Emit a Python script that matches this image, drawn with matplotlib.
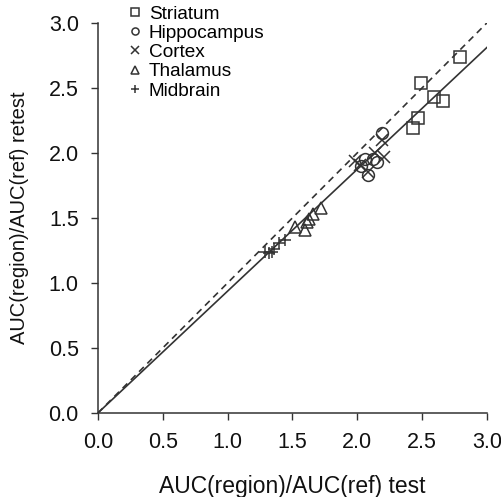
import numpy as np
import matplotlib
matplotlib.use("Agg")
import matplotlib.pyplot as plt

plt.rcParams['font.family'] = ['Liberation Sans', 'DejaVu Sans']

# test / retest ratios
striatum_test = [2.79, 2.49, 2.59, 2.66, 2.47, 2.43]
striatum_retest = [2.74, 2.54, 2.43, 2.40, 2.27, 2.19]
hippo_test = [2.19, 2.06, 2.15, 2.08, 2.03, 2.12]
hippo_retest = [2.15, 1.95, 1.93, 1.83, 1.90, 1.95]
cortex_test = [1.98, 2.02, 2.08, 2.14, 2.21, 2.19]
cortex_retest = [1.94, 1.91, 1.85, 2.00, 1.97, 2.10]
thalamus_test = [1.52, 1.60, 1.61, 1.63, 1.66, 1.72]
thalamus_retest = [1.43, 1.41, 1.47, 1.49, 1.53, 1.58]
midbrain_test = [1.29, 1.34, 1.36, 1.40, 1.44, 1.32]
midbrain_retest = [1.24, 1.24, 1.26, 1.31, 1.33, 1.23]

fit_slope = 0.937
ticks = [0.0, 0.5, 1.0, 1.5, 2.0, 2.5, 3.0]

dark = '#333333'

fig = plt.figure(figsize=(5.02, 4.97), dpi=100)
ax = fig.add_axes([0.195, 0.169, 0.775, 0.785])

xs = np.array([0.0, 3.0])
ax.plot(xs, xs, '--', color=dark, lw=1.2, dashes=(4, 3))
ax.plot(xs, fit_slope * xs, '-', color=dark, lw=1.2)

kw = dict(ls='none', mfc='none', mec=dark, mew=1.1, ms=8.5)
ax.plot(striatum_test, striatum_retest, marker='s', label='Striatum', **kw)
ax.plot(hippo_test, hippo_retest, marker='o', label='Hippocampus', **kw)
ax.plot(cortex_test, cortex_retest, marker='x', label='Cortex', **kw)
ax.plot(thalamus_test, thalamus_retest, marker='^', label='Thalamus', **kw)
ax.plot(midbrain_test, midbrain_retest, marker='+', label='Midbrain', **kw)

ax.set_xlim(0, 3)
ax.set_ylim(0, 3)
ax.set_xticks(ticks)
ax.set_yticks(ticks)
ax.set_xticklabels([f'{t:.1f}' for t in ticks])
ax.set_yticklabels([f'{t:.1f}' for t in ticks])

for s in ['top', 'right']:
    ax.spines[s].set_visible(False)
for s in ['left', 'bottom']:
    ax.spines[s].set_color(dark)
    ax.spines[s].set_linewidth(1.1)

ax.tick_params(direction='out', length=4.7, width=1.0, color=dark,
               labelsize=15.5, labelcolor='#111111', pad=9)

ax.set_xlabel('AUC(region)/AUC(ref) test', fontsize=16.5, color='#111111', labelpad=16)
ax.set_ylabel('AUC(region)/AUC(ref) retest', fontsize=14.5, color='#111111', labelpad=14)

ax.legend(loc='upper left', bbox_to_anchor=(0.075, 1.045), frameon=False,
          fontsize=13.7, markerscale=0.6, handlelength=0.8, handletextpad=0.35,
          labelspacing=0.1, borderpad=0, borderaxespad=0, numpoints=1)

fig.savefig('out.png', dpi=100)
